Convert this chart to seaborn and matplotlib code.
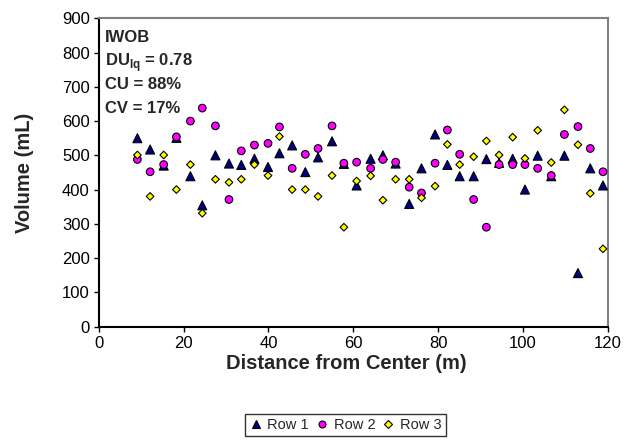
import matplotlib
matplotlib.use("Agg")
import matplotlib.pyplot as plt
from matplotlib.lines import Line2D
import numpy as np
import pandas as pd
import seaborn as sns

# Catch-can volumes along the transect
distance = [9.1, 12.1, 15.3, 18.3, 21.6, 24.4, 27.5, 30.7, 33.6, 36.7, 39.9,
            42.6, 45.6, 48.7, 51.7, 55.0, 57.8, 60.8, 64.1, 67.0, 70.0, 73.2,
            76.1, 79.3, 82.2, 85.1, 88.4, 91.4, 94.4, 97.6, 100.5, 103.5,
            106.7, 109.8, 113.0, 115.9, 118.9]
row1 = [550, 517, 470, 551, 439, 354, 500, 476, 472, 490, 466,
        506, 529, 451, 494, 541, 475, 412, 490, 500, 476, 358,
        462, 561, 472, 439, 439, 489, 478, 490, 400, 499,
        439, 499, 156, 462, 412]
row2 = [488, 452, 473, 554, 600, 638, 586, 371, 513, 530, 535,
        583, 462, 503, 520, 586, 477, 480, 462, 488, 480, 407,
        390, 477, 574, 503, 371, 290, 473, 473, 473, 462,
        441, 561, 584, 520, 452]
row3 = [501, 380, 501, 400, 473, 331, 430, 421, 430, 473, 441,
        555, 400, 400, 380, 441, 290, 425, 440, 369, 430, 430,
        376, 410, 532, 473, 496, 542, 501, 553, 491, 573,
        479, 633, 531, 389, 227]
series_names = ["Row 1", "Row 2", "Row 3"]
stats_lines = ["IWOB", r"DU$_{\mathbf{lq}}$ = 0.78", "CU = 88%", "CV = 17%"]

df = pd.DataFrame({
    "Distance": distance * 3,
    "Volume": row1 + row2 + row3,
    "Row": [series_names[0]] * len(row1) + [series_names[1]] * len(row2)
           + [series_names[2]] * len(row3),
})

sns.set_theme(style="ticks")
plt.rcParams["font.family"] = ["Liberation Sans", "DejaVu Sans"]
plt.rcParams["mathtext.fontset"] = "custom"
plt.rcParams["mathtext.rm"] = "Liberation Sans:bold"
plt.rcParams["mathtext.bf"] = "Liberation Sans:bold"

palette = {"Row 1": "#000080", "Row 2": "#FF00FF", "Row 3": "#FFFF00"}
markers = {"Row 1": "^", "Row 2": "o", "Row 3": "D"}
sizes = {"Row 1": 42, "Row 2": 30, "Row 3": 15}

fig = plt.figure(figsize=(6.31, 4.41), dpi=100)
ax = fig.add_axes([0.1566, 0.2596, 0.8064, 0.6987])

sns.scatterplot(data=df, x="Distance", y="Volume", hue="Row", style="Row",
                size="Row", palette=palette, markers=markers, sizes=sizes,
                edgecolor="black", linewidth=0.8, legend=False, ax=ax, zorder=3)

ax.set_xlim(0, 120)
ax.set_ylim(0, 900)
ax.set_xticks(np.arange(0, 121, 20))
ax.set_yticks(np.arange(0, 901, 100))
ax.tick_params(axis="both", direction="out", length=3.5, width=1, color="black",
               labelsize=12, pad=3, colors="black")

for side in ("left", "bottom"):
    ax.spines[side].set_color("black")
    ax.spines[side].set_linewidth(1.5)
for side in ("top", "right"):
    ax.spines[side].set_color("#808080")
    ax.spines[side].set_linewidth(1.5)

ax.set_xlabel("Distance from Center (m)", fontsize=14.5, fontweight="bold")
ax.set_ylabel("Volume (mL)", fontsize=14.5, fontweight="bold")
ax.xaxis.set_label_coords(0.486, -0.088)
ax.yaxis.set_label_coords(-0.127, 0.5)

for i, line in enumerate(stats_lines):
    ax.text(0.0125, 0.923 - i * 0.0765, line, transform=ax.transAxes,
            fontsize=12, fontweight="bold", va="baseline", ha="left")

handles = [Line2D([], [], linestyle="none", marker=markers[n], markersize=ms,
                  markerfacecolor=palette[n], markeredgecolor="black",
                  markeredgewidth=0.8, label=n)
           for n, ms in zip(series_names, [6, 5, 4])]
leg = fig.legend(handles=handles, loc="center", bbox_to_anchor=(0.548, 0.036),
                 ncol=3, fontsize=10.5, frameon=True, fancybox=False,
                 handlelength=0.8, handletextpad=0.4, columnspacing=0.5,
                 borderpad=0.3, borderaxespad=0)
leg.get_frame().set_edgecolor("black")
leg.get_frame().set_linewidth(1.0)

fig.savefig("out.png", dpi=100)
